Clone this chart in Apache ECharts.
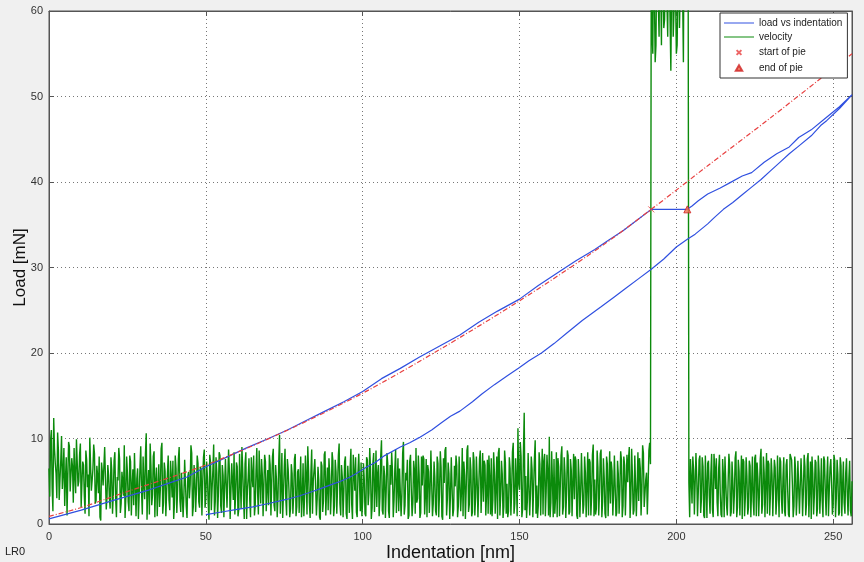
<!DOCTYPE html>
<html>
<head>
<meta charset="utf-8">
<script src="https://cdn.jsdelivr.net/npm/echarts@6/dist/echarts.min.js"></script>
<style>
html,body{margin:0;padding:0;background:#f0f0f0;}
#chart{width:864px;height:562px;}
</style>
</head>
<body>
<div id="chart"></div>
<script>
// ---- data ----
const xTicks = [0, 50, 100, 150, 200, 250];
const yTicks = [0, 10, 20, 30, 40, 50, 60];

// loading branch (upper) incl. hold ("pie")
const upX = [0,5,10,15,20,26,32,38,44,50,56,63,70,76,82,88,94,100,106,112,118,125,131,137,143,150,156,163,168,174,178,183,187,192,198,203.5,205,207,210,214,217,221,224,228,232,236,239,243,248,252,256];
const upY = [0.6,1.1,1.6,2.15,2.7,3.35,4.0,4.75,5.5,6.7,7.7,8.9,10.0,11.0,12.1,13.2,14.3,15.5,17.0,18.2,19.5,20.9,22.1,23.6,24.9,26.3,27.9,29.6,30.8,32.1,33.1,34.3,35.4,36.8,36.8,36.8,37.2,37.8,38.6,39.3,39.9,40.7,41.1,42.3,43.3,44.1,45.2,46.1,47.6,48.8,50.2];
// lower branch, from the top back down
const downX = [256,252,248,246,243,239,236,233,230,227,224,221,218,215,212,210,206,203.5,200,196,192,188,184,180,176,170,165,161,157,153,150,146,142,138,135,131,128,125,122,118,115,112,107,104,101,98,96,93,90,87,84,80,76,70,65,60,55,50];
const downY = [50.0,48.6,47.2,46.6,45.4,44.2,43.3,42.3,41.3,40.3,39.4,38.5,37.6,36.8,35.8,35.1,33.9,33.3,32.4,31.0,29.8,28.7,27.6,26.5,25.4,23.8,22.3,21.1,20.0,19.1,18.3,17.3,16.3,15.2,14.3,13.2,12.6,11.8,11.0,10.1,9.5,9.0,8.0,7.2,6.6,5.9,5.5,5.0,4.6,4.2,3.8,3.3,2.9,2.4,2.0,1.7,1.4,1.1];
// fitted curve (red dash-dot)
const fitX = [0,10,25,50,75,100,125,150,175,192,210,230,256];
const fitY = [0.9,1.9,3.8,6.9,10.8,15.3,20.5,26.1,32.2,36.8,41.9,47.5,55.0];
// pie markers
const pieStart = [192, 36.8];
const pieEnd = [203.5, 36.8];

// velocity: samples at 0, 0.5, 1.0 ... 256 nm
const velocityStep = 0.5;
const velocity = [
6.5,9.8,4.2,12.4,7.1,3.0,8.6,5.2,10.3,6.0,2.1,7.8,5.5,9.1,4.0,6.7,8.9,3.6,7.2,5.0,
9.4,4.8,6.9,1.2,7.5,5.8,10.1,3.9,6.4,8.2,2.7,5.6,7.9,0.4,6.1,4.3,8.8,3.2,5.7,1.8,
6.3,3.5,8.4,0.8,5.1,7.6,2.4,4.9,9.2,3.1,6.0,1.5,7.3,4.4,2.2,8.1,5.3,0.6,6.6,3.8,
7.9,2.9,10.6,4.5,1.1,6.8,3.4,8.5,5.0,0.9,7.0,4.1,9.5,2.5,6.2,3.7,8.0,1.6,5.4,7.4,
2.3,6.5,4.0,9.0,1.4,5.9,3.3,7.7,0.7,6.1,4.6,8.3,2.0,5.2,3.9,7.1,1.9,6.4,4.8,8.7,
3.0,5.5,0.5,7.2,4.2,9.3,2.6,6.0,3.6,8.0,1.3,5.7,4.4,7.5,2.1,6.3,0.8,5.0,8.4,3.5,
6.7,1.7,4.9,9.0,3.2,7.0,0.6,5.4,2.8,7.8,4.3,1.0,6.2,3.7,8.6,2.4,5.8,0.9,7.3,4.1,
2.2,6.9,4.7,8.8,1.5,5.3,3.1,10.4,4.5,0.7,6.6,2.9,7.6,4.0,1.8,5.9,3.4,8.2,2.0,6.4,
4.6,0.8,7.1,3.3,5.6,9.1,2.5,6.0,1.2,4.8,7.7,3.0,5.2,0.5,6.8,2.7,8.5,4.2,1.6,5.7,
3.5,7.4,2.1,6.1,4.4,9.4,1.0,5.5,3.8,7.9,0.6,4.9,6.5,2.3,8.1,3.9,1.4,6.0,4.7,7.2,
2.6,5.3,0.9,7.5,3.6,6.4,1.9,8.3,4.1,2.0,6.9,3.2,9.8,1.1,5.6,3.9,7.0,0.7,4.6,6.2,
2.8,8.7,4.3,1.5,6.7,3.4,9.6,2.2,5.1,0.6,7.3,4.0,2.5,6.3,8.9,3.0,5.8,1.3,4.5,7.6,
3.3,0.8,6.1,4.2,8.4,2.4,5.5,1.0,7.1,3.7,6.6,0.5,4.8,9.0,2.9,5.9,3.5,7.8,1.7,4.4,
6.8,2.1,8.0,3.8,0.9,5.7,4.0,9.2,2.3,6.3,1.4,7.4,3.1,5.2,0.7,8.6,4.6,2.6,6.9,3.6,
1.2,5.4,7.7,2.8,6.0,4.3,0.6,8.9,3.4,5.8,2.0,7.2,4.7,1.5,6.5,3.9,9.5,2.4,5.1,11.2,
4.0,7.9,1.8,13.0,5.6,2.7,8.5,3.6,6.4,0.9,9.8,4.5,2.2,7.0,5.3,1.1,8.2,3.8,6.1,10.2,
2.5,5.0,7.6,3.2,0.8,6.7,4.4,9.1,2.0,5.9,3.5,8.0,1.4,6.3,4.8,2.9,7.4,0.6,5.5,3.9,
8.4,2.3,6.0,4.5,1.0,7.2,3.3,9.3,5.2,1.8,6.6,3.7,8.7,2.6,5.4,0.7,7.0,4.1,2.4,6.2,
3.5,8.1,1.3,5.8,4.0,7.5,2.1,6.9,0.8,4.9,9.0,3.0,5.6,1.6,7.8,4.3,2.7,6.5,3.8,8.3,
2.0,6.0,4.5,9.5,
66,55,62,56,68,57,64,72,58,66,61,70,59,64,57,67,55,63,58,69,62,74,66,70,
4.8,7.6,2.4,6.3,1.0,5.5,3.8,8.0,2.9,6.7,0.7,4.6,7.1,3.3,5.9,1.7,8.2,4.1,2.5,6.5,
3.6,0.8,5.7,7.9,2.2,4.8,6.9,1.4,5.1,3.4,8.5,2.0,6.2,4.4,0.6,7.3,3.1,5.6,1.9,6.8,
4.2,2.6,7.7,0.9,5.3,3.7,8.8,2.3,6.0,4.9,1.2,7.0,3.5,5.8,0.7,6.6,2.8,4.5,7.8,3.0,
5.4,1.5,6.9,3.9,0.8,8.1,4.6,2.1,6.4,3.2,7.5,1.0,5.0,3.8,6.7,2.4,8.3,4.3,0.6,5.9,
3.3,7.2,1.8,6.1,4.0,2.7,7.9,3.6,5.5,0.9,6.6,4.7,2.2,7.4,3.1,5.8,1.3,6.8,4.4,2.5,
6.0,3.4,5.2,1.6,5.0
];
// velocity: in-between samples at 0.25, 0.75 ... 255.75 nm
const velocityMid = [
3.2,11.0,1.5,8.8,5.9,10.7,2.8,7.4,4.1,8.9,5.3,1.0,9.6,3.8,7.7,2.5,5.6,9.9,4.4,8.1,
2.0,7.3,3.4,8.6,4.3,0.9,7.0,5.1,9.3,2.4,6.8,3.6,0.8,7.2,4.5,9.0,1.7,6.9,3.0,7.8,
1.2,7.4,2.9,5.5,8.9,1.3,6.1,3.3,0.7,7.9,2.6,8.0,1.0,6.4,8.3,0.9,6.5,3.4,9.1,1.1,
4.6,8.2,0.5,6.3,9.4,2.2,7.9,0.8,6.6,4.1,2.0,8.8,1.2,7.2,0.9,5.9,2.8,7.4,3.1,0.6,
8.0,1.3,7.6,2.7,6.0,0.8,7.5,2.1,5.5,3.0,9.2,0.9,6.9,1.4,8.0,2.6,6.7,1.0,7.8,1.9,
7.3,2.4,8.1,1.6,6.3,1.0,7.8,0.7,8.4,2.1,6.9,0.8,7.6,1.9,8.7,0.6,7.1,2.8,1.1,7.2,
0.9,8.2,1.8,6.5,0.6,8.4,3.9,7.7,0.8,5.6,8.0,2.2,8.9,1.1,5.0,7.6,0.9,8.1,1.5,6.3,
8.1,1.0,7.9,2.2,6.9,0.8,7.4,1.2,8.3,3.6,8.8,1.0,6.4,0.8,7.0,1.2,7.6,0.9,6.1,1.3,
7.9,3.1,0.9,8.0,1.1,6.3,0.7,8.7,5.0,7.6,1.0,6.7,0.8,7.3,1.4,8.1,1.0,6.6,7.7,1.1,
8.4,0.9,7.5,1.2,8.0,2.4,6.9,0.8,7.3,1.2,6.8,1.3,8.8,0.6,5.9,7.8,0.8,8.2,1.5,0.9,
7.1,1.2,7.8,2.2,8.9,0.6,7.0,1.4,8.6,5.8,0.9,7.9,1.6,6.8,0.7,8.3,1.5,6.9,8.4,0.8,
6.4,1.3,7.7,6.5,0.9,8.3,1.1,6.0,7.5,1.0,8.1,0.9,7.4,1.2,2.5,8.0,0.7,7.9,8.0,1.1,
7.6,6.9,1.3,8.6,0.9,7.3,1.5,7.9,0.8,8.5,0.9,7.7,8.6,1.0,7.2,0.6,7.8,0.9,6.8,8.0,
0.8,7.9,1.5,8.9,7.3,0.6,8.6,1.4,7.8,0.9,8.4,1.0,7.9,0.8,7.6,1.3,8.3,7.4,1.0,7.5,
8.0,1.1,0.9,8.4,1.2,7.9,8.3,1.0,7.4,0.7,8.6,1.2,0.8,7.8,1.0,8.4,1.2,7.7,0.9,4.8,
9.6,0.8,8.4,1.6,0.7,8.3,1.0,7.9,0.8,7.6,1.2,0.7,8.4,1.0,8.8,7.4,0.9,8.1,1.0,0.8,
8.5,0.8,1.2,8.4,7.7,0.9,8.0,1.1,7.8,0.7,8.6,1.1,7.6,0.9,8.2,7.9,1.0,7.6,0.8,8.3,
1.2,7.9,0.8,8.4,7.6,1.0,8.1,0.9,1.1,8.6,1.0,8.2,0.8,7.7,1.2,7.9,0.9,8.5,7.3,1.0,
8.0,0.9,7.4,1.2,8.5,0.8,7.9,1.0,8.1,7.6,0.7,8.8,1.1,8.0,0.9,8.4,7.7,1.0,9.2,2.0,
5.2,1.1,8.6,7.0,
58,69,54,66,61,73,56,63,59,71,57,65,53,68,60,62,56,70,58,66,54,64,61,68,
0.8,5.2,7.9,1.1,8.3,0.9,7.5,1.3,7.8,1.0,8.0,0.7,7.4,1.2,8.2,0.8,6.5,7.7,0.9,8.1,
1.1,7.6,0.8,7.9,1.0,8.2,0.9,7.3,1.2,7.7,0.8,7.5,1.0,8.0,7.6,0.9,7.8,1.1,7.4,0.8,
7.9,1.0,8.1,7.2,0.9,7.6,1.2,7.9,0.8,8.3,7.4,1.0,7.7,0.9,7.5,1.1,8.0,0.8,7.3,1.2,
7.8,0.9,7.6,1.1,8.2,7.5,0.8,7.9,1.0,7.4,1.2,7.7,0.9,8.1,1.0,7.6,0.8,7.3,7.9,1.1,
7.5,0.9,8.0,1.2,7.7,0.8,7.4,1.0,7.9,0.9,7.6,1.1,8.1,0.8,7.5,1.0,7.8,0.9,7.3,1.2,
7.7,1.0,7.4,0.9
];

// ---- build ----
const pairs = (xs, ys) => xs.map((x, i) => [x, ys[i]]);
const loadData = pairs(upX, upY).concat(pairs(downX, downY));
const velData = [];
velocity.forEach((v, i) => {
  velData.push([i * velocityStep, v]);
  if (i < velocityMid.length) velData.push([i * velocityStep + velocityStep / 2, velocityMid[i]]);
});

const chart = echarts.init(document.getElementById('chart'), null, {renderer: 'canvas'});
const FONT = 'Liberation Sans, Arial, sans-serif';
const BLUE = '#3050e0', GREEN = '#0b8a0b', RED = '#e84040';
const gridLine = {show: true, lineStyle: {color: '#777', type: [1, 3], width: 1}};
const labelStyle = {color: '#333', fontSize: 11, fontFamily: FONT};
const tick = {show: true, inside: true, length: 5, lineStyle: {color: '#555'}};
const axLine = {show: true, onZero: false, lineStyle: {color: '#555'}};

const option = {
  backgroundColor: '#f0f0f0',
  animation: false,
  grid: {left: 49, right: 12, top: 11, bottom: 38, containLabel: false, outerBoundsMode: 'none',
         show: true, backgroundColor: '#ffffff', borderColor: '#555', borderWidth: 1},
  legend: {
    left: 720, top: 13, orient: 'vertical',
    backgroundColor: '#ffffff', borderColor: '#333', borderWidth: 1, borderRadius: 0,
    padding: [5, 5, 5, 4], itemGap: 4, itemWidth: 30, itemHeight: 8,
    textStyle: {fontSize: 10, color: '#222', fontFamily: FONT},
    data: [
      {name: 'load vs indentation', icon: 'path://M0,0H30V1H0Z'},
      {name: 'velocity', icon: 'path://M0,0H30V1H0Z'},
      {name: 'start of pie', icon: 'path://M0,0M10,10M2,2L8,8M2,8L8,2'},
      {name: 'end of pie', icon: 'path://M0,0M10,10M5,1.5L9,8.5L1,8.5Z'}
    ]
  },
  xAxis: [{
    type: 'value', min: 0, max: 256, interval: 50,
    name: 'Indentation [nm]', nameLocation: 'middle', nameGap: 20, nameMoveOverlap: false,
    nameTextStyle: {fontSize: 18, color: '#111', fontFamily: FONT},
    axisLine: axLine, axisTick: tick,
    axisLabel: Object.assign({margin: 7, showMaxLabel: false}, labelStyle),
    splitLine: gridLine
  }, {
    type: 'value', min: 0, max: 256, interval: 50, position: 'top',
    axisLine: axLine, axisTick: tick, axisLabel: {show: false}, splitLine: {show: false}
  }],
  yAxis: [{
    type: 'value', min: 0, max: 60, interval: 10,
    name: 'Load [mN]', nameLocation: 'middle', nameGap: 20, nameMoveOverlap: false,
    nameTextStyle: {fontSize: 17, color: '#111', fontFamily: FONT},
    axisLine: axLine, axisTick: tick,
    axisLabel: Object.assign({margin: 6}, labelStyle),
    splitLine: gridLine
  }, {
    type: 'value', min: 0, max: 60, interval: 10, position: 'right',
    axisLine: axLine, axisTick: tick, axisLabel: {show: false}, splitLine: {show: false}
  }],
  graphic: [{
    type: 'text', left: 5, top: 546,
    style: {text: 'LR0', fontSize: 11, fill: '#222', fontFamily: FONT}
  }],
  series: [
    {
      name: 'velocity', type: 'line', data: velData, showSymbol: false, symbol: 'none',
      lineStyle: {color: GREEN, width: 1.4}, itemStyle: {color: GREEN}, z: 1, clip: true
    },
    {
      name: 'load vs indentation', type: 'line', data: loadData, showSymbol: false, symbol: 'none',
      lineStyle: {color: BLUE, width: 1.2}, itemStyle: {color: BLUE}, z: 2
    },
    {
      name: 'fit', type: 'line', data: pairs(fitX, fitY), showSymbol: false, symbol: 'none', smooth: 0.3,
      lineStyle: {color: RED, width: 1.2, type: [5, 2, 1, 2]}, z: 3
    },
    {
      name: 'start of pie', type: 'scatter', data: [pieStart],
      symbol: 'path://M0,0L10,10M0,10L10,0', symbolSize: 6,
      itemStyle: {color: 'none', borderColor: RED, borderWidth: 1}, z: 4
    },
    {
      name: 'end of pie', type: 'scatter', data: [pieEnd],
      symbol: 'path://M5,0L10,8.7L0,8.7Z', symbolSize: 7,
      itemStyle: {color: '#f07050', borderColor: '#d02020', borderWidth: 1}, z: 4
    }
  ]
};
chart.setOption(option);
</script>
</body>
</html>
